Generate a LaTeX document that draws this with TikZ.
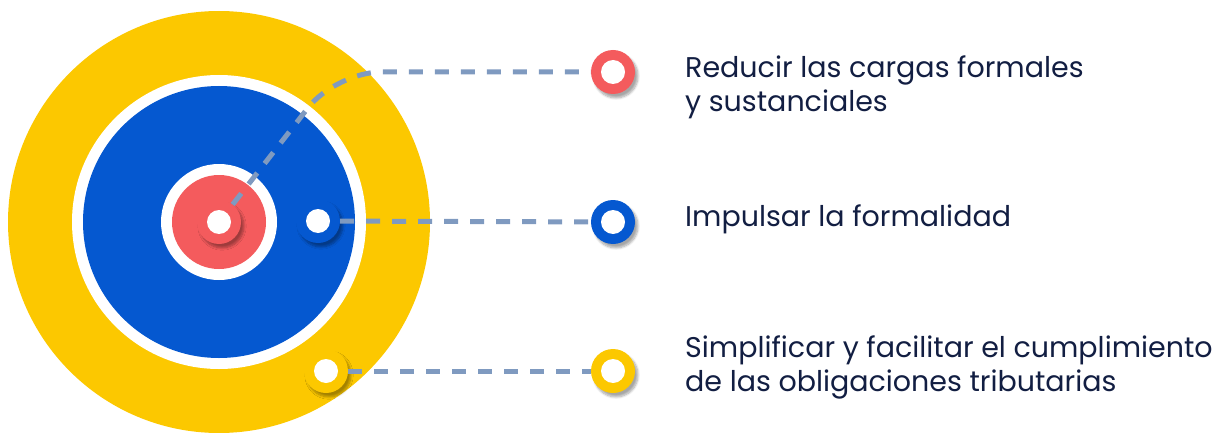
\documentclass[tikz,border=0pt]{standalone}
\usepackage{fontspec}
\setmainfont{Poppins}
\usepackage{tikz}
\usetikzlibrary{shadows.blur}
\definecolor{gold}{HTML}{FCC800}
\definecolor{tblue}{HTML}{0558D0}
\definecolor{tred}{HTML}{F45B5D}
\definecolor{dashcol}{HTML}{7F9AC0}
\definecolor{navy}{HTML}{121E42}

\begin{document}
\begin{tikzpicture}[x=1pt,y=-1pt,
    marker/.style={circle, minimum size=44pt, inner sep=0pt,
      blur shadow={shadow xshift=3pt, shadow yshift=-4pt, shadow blur steps=8, shadow opacity=35}},
    link/.style={draw=dashcol, line width=5pt, dash pattern=on 14pt off 12pt},
    goal/.style={anchor=base west, align=left, inner sep=0pt, text=navy, font=\fontsize{28.5}{34}\selectfont}]
    \useasboundingbox (0,0) rectangle (1225,433);
    % Draw target rings
    \fill[gold] (219,222) circle (211pt);
    \fill[white] (219,222) circle (147pt);
    \fill[tblue] (219,222) circle (136pt);
    \fill[white] (219,222) circle (58pt);
    \fill[tred] (219,222) circle (47pt);
    % Draw markers
    \foreach \name/\col/\x/\y in {hub/tred/219/222, inner/tblue/318/221, outer/gold/326/371,
        end1/tred/613/72, end2/tblue/613/222, end3/gold/613/371} {
        \node[marker, fill=\col] (\name) at (\x,\y) {};
        \fill[white] (\name) circle (12pt);
    }
    % Draw dashed links
    \coordinate (bend) at (336,72);
    \draw[link, rounded corners=45pt] (hub) -- (bend) -- (end1);
    \draw[link] (inner) -- (end2);
    \draw[link] (outer) -- (end3);
    % Label goals
    \node[goal] (goal1) at (685,112) {Reducir las cargas formales \\ y sustanciales};
    \node[goal] (goal2) at (685,226) {Impulsar la formalidad};
    \node[goal] (goal3) at (685,391) {Simplificar y facilitar el cumplimiento \\ de las obligaciones tributarias};
\end{tikzpicture}
\end{document}
